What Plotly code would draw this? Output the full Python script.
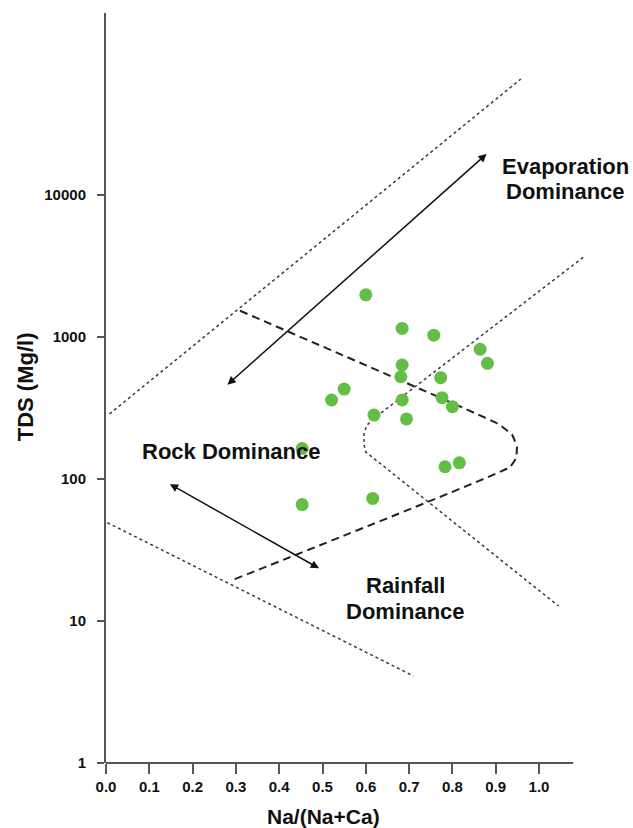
import numpy as np
import plotly.graph_objects as go

# Sample ratios Na/(Na+Ca) and total dissolved solids (mg/l)
na_ratio = [0.600, 0.684, 0.757, 0.864, 0.881, 0.684, 0.681, 0.773, 0.550, 0.521,
            0.684, 0.776, 0.800, 0.619, 0.694, 0.453, 0.783, 0.816, 0.616, 0.453]
tds = [1980, 1150, 1030, 820, 653, 635, 525, 517, 430, 360,
       360, 374, 323, 282, 265, 164, 122, 130, 73, 66]

# Gibbs diagram envelope lines
upper_x = [0.008, 0.958]
upper_tds = [287, 65600]

right_x = [1.102, 0.617, 0.603, 0.596, 0.596, 0.600, 1.045]
right_tds = [3640, 264.6, 239.9, 210.9, 173.5, 154.9, 12.75]

lower_x = [0.003, 0.710]
lower_tds = [49.3, 4.1]

inner_x = [0.3095, 0.906, 0.938, 0.949, 0.947, 0.933, 0.288]
inner_tds = [1531, 243.8, 204.2, 167.9, 140.6, 121.6, 19.2]

# Double-headed process arrows
evap_arrow_x = [0.277, 0.879]
evap_arrow_tds = [452, 19450]
rock_arrow_x = [0.144, 0.492]
rock_arrow_tds = [93.3, 23.5]

# Region labels: (text, x, tds)
labels = [
    ("Evaporation", 1.062, 15800),
    ("Dominance", 1.062, 10550),
    ("Rock Dominance", 0.289, 155.6),
    ("Rainfall", 0.691, 17.7),
    ("Dominance", 0.691, 11.6),
]

x_ticks = [0.0, 0.1, 0.2, 0.3, 0.4, 0.5, 0.6, 0.7, 0.8, 0.9, 1.0]
x_tick_text = ["0.0", "0.1", "0.2", "0.3", "0.4", "0.5", "0.6", "0.7", "0.8", "0.9", "1.0"]
y_ticks = [1, 10, 100, 1000, 10000]
y_tick_text = ["1", "10", "100", "1000", "10000"]

FONT = "Liberation Sans, Arial, sans-serif"
AXIS_COLOR = "#555555"
LINE_COLOR = "#3a3a3a"

fig = go.Figure()

for xs, ys in [(upper_x, upper_tds), (right_x, right_tds), (lower_x, lower_tds)]:
    fig.add_trace(go.Scatter(x=xs, y=ys, mode="lines",
                             line=dict(color=LINE_COLOR, width=1.5, dash="dot"),
                             hoverinfo="skip", showlegend=False))

fig.add_trace(go.Scatter(x=inner_x, y=inner_tds, mode="lines",
                         line=dict(color="#222222", width=2, dash="8px,5px", shape="spline",
                                   smoothing=0.3),
                         hoverinfo="skip", showlegend=False))

fig.add_trace(go.Scatter(x=na_ratio, y=tds, mode="markers",
                         marker=dict(color="#64bd46", size=13, line=dict(width=0)),
                         showlegend=False))

annotations = []
for ax_, ay_ in [(evap_arrow_x, evap_arrow_tds), (rock_arrow_x, rock_arrow_tds)]:
    annotations.append(dict(
        x=ax_[1], y=np.log10(ay_[1]), ax=ax_[0], ay=np.log10(ay_[0]),
        xref="x", yref="y", axref="x", ayref="y", text="", showarrow=True,
        arrowhead=2, startarrowhead=2, arrowside="end+start",
        arrowsize=1.1, startarrowsize=1.1, arrowwidth=1.5, arrowcolor="#111111",
        standoff=0, startstandoff=0))

for text, lx, ly in labels:
    annotations.append(dict(
        x=lx, y=np.log10(ly), xref="x", yref="y", text=text, showarrow=False,
        xanchor="center", yanchor="middle",
        font=dict(family=FONT, size=22, color="#111111", weight="bold")))

annotations.append(dict(x=0.455, y=-0.0716, xref="paper", yref="paper",
                        text="Na/(Na+Ca)", showarrow=False, xanchor="center", yanchor="middle",
                        font=dict(family=FONT, size=21, color="#111111", weight="bold")))
annotations.append(dict(x=-0.169, y=0.501, xref="paper", yref="paper",
                        text="TDS (Mg/l)", showarrow=False, textangle=-90,
                        xanchor="center", yanchor="middle",
                        font=dict(family=FONT, size=22, color="#111111", weight="bold")))

# x axis line drawn up to 1.079 only; the plotting range runs a little further
x_axis_end = 1.079

fig.update_layout(
    width=633, height=828,
    margin=dict(l=106, r=48, t=13, b=65),
    paper_bgcolor="white", plot_bgcolor="white",
    annotations=annotations,
    shapes=[dict(type="line", xref="x", yref="paper", x0=0, x1=x_axis_end, y0=0, y1=0,
                 line=dict(color=AXIS_COLOR, width=2))],
    xaxis=dict(range=[0, 479 / 433], showgrid=False, zeroline=False, showline=False,
               tickmode="array", tickvals=x_ticks, ticktext=x_tick_text,
               ticks="outside", ticklen=10, tickwidth=1.5, tickcolor=AXIS_COLOR,
               tickfont=dict(family=FONT, size=15, color="#111111", weight="bold")),
    yaxis=dict(type="log", range=[0, 750 / 142], showgrid=False, zeroline=False,
               showline=True, linecolor=AXIS_COLOR, linewidth=2,
               tickmode="array", tickvals=y_ticks, ticktext=y_tick_text,
               ticks="outside", ticklen=7, tickwidth=1.5, tickcolor=AXIS_COLOR,
               ticklabelstandoff=8,
               tickfont=dict(family=FONT, size=15, color="#111111", weight="bold")),
)

fig.write_html("out.html")
